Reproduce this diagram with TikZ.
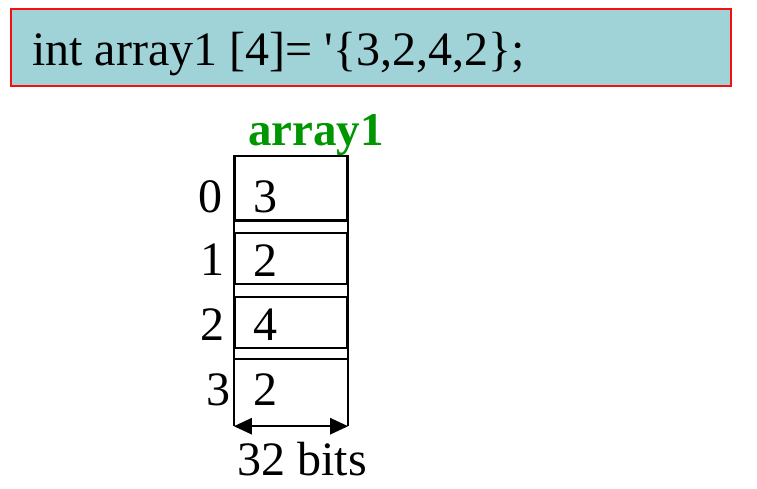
\documentclass[tikz,border=0pt]{standalone}
\usepackage{fontspec}
\setmainfont{Liberation Serif}
\usetikzlibrary{arrows.meta}
\definecolor{bannerfill}{RGB}{160,211,216}
\definecolor{bannerline}{RGB}{245,15,15}
\definecolor{namegreen}{RGB}{0,150,0}

\begin{document}
\begin{tikzpicture}[x=1pt, y=-1pt,
    wall/.style={line width=2.4pt},
    cell/.style={draw, wall, minimum width=112pt, inner sep=0pt},
    txt/.style={anchor=base, inner sep=0pt, font=\fontsize{48}{58}\selectfont},
    tip/.tip={Triangle[length=18pt, width=16pt]}]
    \useasboundingbox (0,0) rectangle (757,488);

    % Banner {decl, code}
    \node [draw=bannerline, line width=2.2pt, fill=bannerfill, minimum width=720pt, minimum height=77pt, inner sep=0pt] (decl) at (371,47.5) {};
    \node [txt, anchor=base west] (code) at (32,65) {int array1 [4]= \textquotesingle\{3,2,4,2\};};

    % Cells {c0, c1, c2, c3}
    \node [cell, minimum height=64.5pt] 	(c0) at (291,188.25) {};
    \node [cell, minimum height=51pt] 		(c1) at (291,258.5)  {};
    \node [cell, minimum height=51pt] 		(c2) at (291,322.5)  {};
    \node [cell, draw=none, minimum height=65pt] (c3) at (291,392.5) {};

    % Values and indices
    \node [txt] (v0) at (265,212) {3};
    \node [txt] (v1) at (265,276) {2};
    \node [txt] (v2) at (265,340) {4};
    \node [txt] (v3) at (265,405) {2};
    \node [txt] (i0) at (210,212) {0};
    \node [txt] (i1) at (212,275.5) {1};
    \node [txt] (i2) at (212,340) {2};
    \node [txt] (i3) at (218,405) {3};

    % Name and width
    \node [txt, font=\fontsize{47}{56}\selectfont\bfseries, text=namegreen] (name) at (316,145) {array1};
    \node [txt] (width) at (302,475) {32 bits};

    % Paths
    \draw [wall] (c0.north west) -- (c3.south west);
    \draw [wall] (c0.north east) -- (c3.south east);
    \draw [wall] (c3.south west) |- (c3.north east) -- (c3.south east);
    \draw [wall, tip-tip] (c3.south west) -- (c3.south east);

\end{tikzpicture}
\end{document}
